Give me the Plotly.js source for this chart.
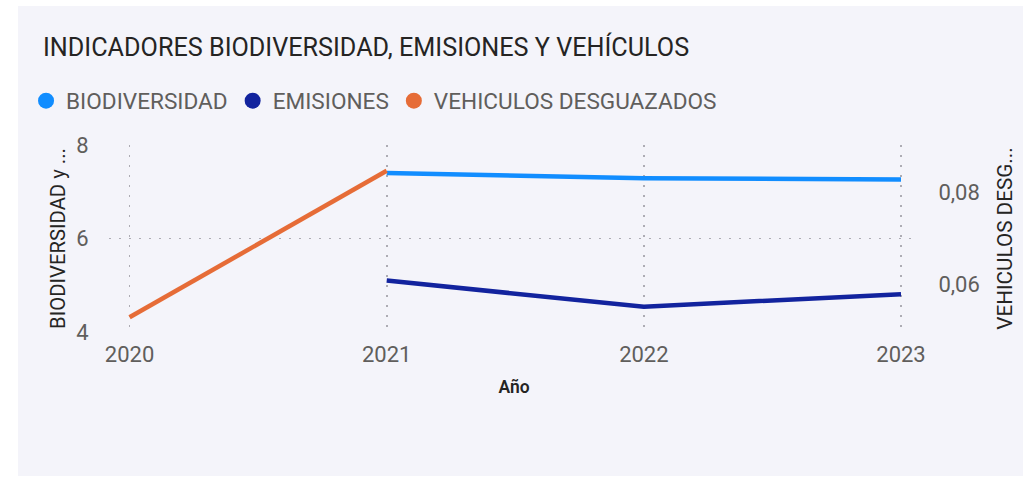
<!DOCTYPE html>
<html>
<head>
<meta charset="utf-8">
<script src="https://cdn.plot.ly/plotly-3.0.1.min.js"></script>
<style>
  html, body { margin: 0; padding: 0; background: #ffffff; width: 1032px; height: 478px; overflow: hidden; }
  #chart { position: absolute; left: 18px; top: 6px; width: 1005px; height: 470px; }
</style>
</head>
<body>
<div id="chart"></div>
<script>
const years = [2020, 2021, 2022, 2023];
const biodiversidad = [null, 7.40, 7.29, 7.26];
const emisiones = [null, 5.10, 4.54, 4.81];
const vehiculos = [0.0528, 0.0846, null, null];
const seriesNames = ['BIODIVERSIDAD', 'EMISIONES', 'VEHICULOS DESGUAZADOS'];
const colors = ['#118DFF', '#12239E', '#E66C37'];

const FONT = 'Roboto, "Noto Sans", sans-serif';
const GRID = { showgrid: true, gridcolor: '#ADACB4', griddash: '2px,8px', gridwidth: 1.8 };

const traces = [
  { x: years, y: biodiversidad, name: seriesNames[0], mode: 'lines', line: { color: colors[0], width: 4.5 }, yaxis: 'y', showlegend: false, connectgaps: false },
  { x: years, y: emisiones, name: seriesNames[1], mode: 'lines', line: { color: colors[1], width: 4.5 }, yaxis: 'y', showlegend: false, connectgaps: false },
  { x: years, y: vehiculos, name: seriesNames[2], mode: 'lines', line: { color: colors[2], width: 4.5 }, yaxis: 'y2', showlegend: false, connectgaps: false }
];
// legend-only entries with round symbols
seriesNames.forEach((n, i) => {
  traces.push({ x: [null], y: [null], name: n, mode: 'markers', marker: { color: colors[i], size: 20, symbol: 'circle' }, showlegend: true, hoverinfo: 'skip' });
});

const layout = {
  width: 1005, height: 470,
  paper_bgcolor: '#F4F4FA', plot_bgcolor: 'rgba(0,0,0,0)',
  separators: ',.',
  margin: { l: 91, r: 104, t: 139, b: 144, pad: 0 },
  font: { family: FONT, color: '#605E5C' },
  title: {
    text: 'INDICADORES BIODIVERSIDAD, EMISIONES Y VEHÍCULOS',
    x: 0.0249, xanchor: 'left', xref: 'container',
    y: 0.9128, yanchor: 'middle', yref: 'container',
    font: { family: FONT, size: 25.2, color: '#252423' }
  },
  legend: {
    orientation: 'h', xref: 'container', x: 0.008, xanchor: 'left', y: 0.798, yanchor: 'middle', yref: 'container',
    font: { family: FONT, size: 22.6, color: '#605E5C' },
    itemwidth: 30, tracegroupgap: 0, bgcolor: 'rgba(0,0,0,0)'
  },
  xaxis: Object.assign({
    range: [2019.92, 2023.07],
    tickvals: years, ticktext: years.map(String),
    ticks: 'outside', ticklen: 3, tickcolor: 'rgba(0,0,0,0)',
    tickfont: { family: FONT, size: 22, color: '#605E5C' },
    zeroline: false, showline: false,
    title: { text: 'Año', font: { family: FONT, size: 17.5, color: '#252423', weight: 600 }, standoff: 14 }
  }, GRID),
  yaxis: Object.assign({
    range: [4, 8], dtick: 2, tick0: 0,
    ticks: 'outside', ticklen: 15, tickcolor: 'rgba(0,0,0,0)',
    tickfont: { family: FONT, size: 22, color: '#605E5C' },
    zeroline: false, showline: false,
    title: { text: 'BIODIVERSIDAD y ...', font: { family: FONT, size: 20.3, color: '#252423' }, standoff: 5 }
  }, GRID),
  yaxis2: {
    overlaying: 'y', side: 'right',
    range: [0.0496, 0.0902], dtick: 0.02, tick0: 0, tickformat: '.2f',
    ticks: 'outside', ticklen: 14, tickcolor: 'rgba(0,0,0,0)',
    tickfont: { family: FONT, size: 22, color: '#605E5C' },
    showgrid: false, zeroline: false, showline: false,
    title: { text: 'VEHICULOS DESG...', font: { family: FONT, size: 20.7, color: '#252423' }, standoff: 18 }
  },
  showlegend: true
};

Plotly.newPlot('chart', traces, layout, { displayModeBar: false, staticPlot: true });
</script>
</body>
</html>
